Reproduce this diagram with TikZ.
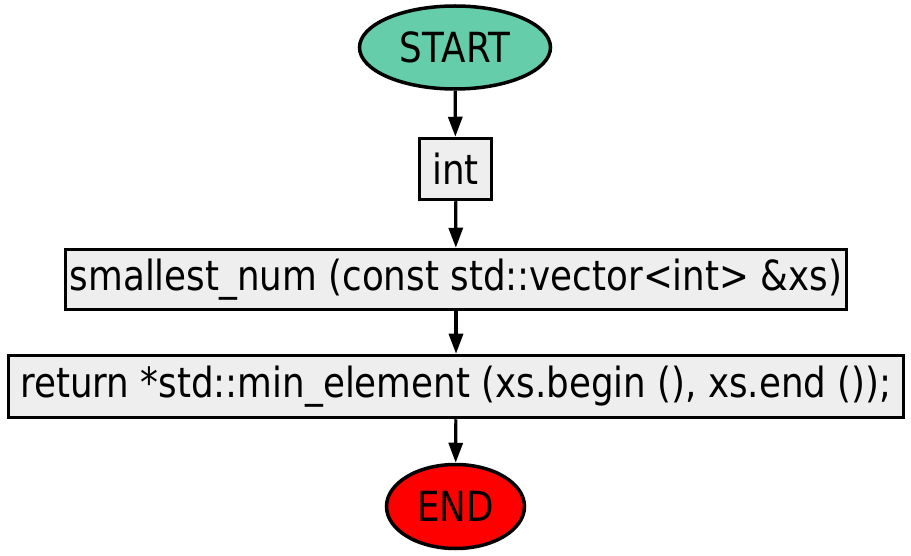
\documentclass[tikz,border=0pt]{standalone}
\usepackage{fontspec}
\setmainfont[FakeStretch=0.86]{DejaVu Sans}
\usetikzlibrary{shapes.geometric,arrows.meta}
\definecolor{startc}{HTML}{66CDAA}
\definecolor{boxc}{HTML}{EEEEEE}
\tikzset{
  base/.style={draw=black,line width=3.5pt,inner sep=0pt,font=\fontsize{41.5}{44}\selectfont,text=black},
  term/.style={base,ellipse},
  procbox/.style={base,rectangle,fill=boxc},
  conn/.style={line width=3.2pt,-{Triangle[length=20pt,width=14pt]}}
}
\begin{document}
\begin{tikzpicture}[x=1pt,y=-1pt]
\useasboundingbox (0,0) rectangle (911,556);
\node[term,fill=startc,minimum width=191pt,minimum height=83pt] (start) at (455,47.5) {START};
\node[procbox,minimum width=72pt,minimum height=61pt] (int) at (455.5,169) {int};
\node[procbox,minimum width=781pt,minimum height=60pt] (fn) at (456,279.5) {smallest\_num (const std::vector<int> \&xs)};
\node[procbox,minimum width=895pt,minimum height=62pt] (ret) at (456,386.5) {return *std::min\_element (xs.begin (), xs.end ());};
\node[term,fill=red,minimum width=138pt,minimum height=84pt] (end) at (455.5,506.5) {END};
\draw[conn] (start) -- (int);
\draw[conn] (int) -- (fn);
\draw[conn] (fn) -- (ret);
\draw[conn] (ret) -- (end);
\end{tikzpicture}
\end{document}
